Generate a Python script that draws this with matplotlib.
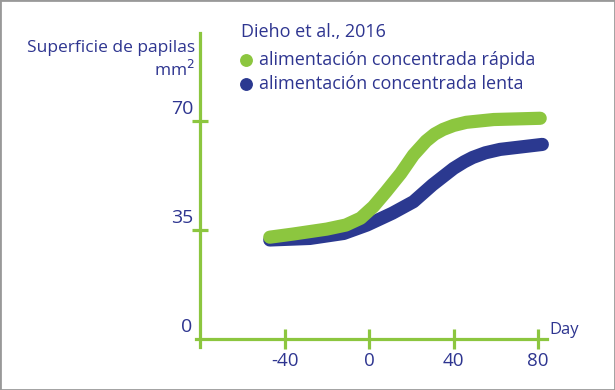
import matplotlib
matplotlib.use('Agg')
import matplotlib.pyplot as plt

# datos
dias_rapida = [-47, -36, -20, -11, -4, 2, 8, 15, 21, 27, 31, 35, 40, 46, 59, 81]
sup_rapida = [32.7, 33.7, 35.3, 36.6, 38.8, 42.5, 47.3, 53.2, 59.1, 63.6, 65.8, 67.3, 68.6, 69.6, 70.5, 70.9]
dias_lenta = [-47, -28, -12, -1, 11, 21, 30, 40, 45, 49, 55, 62, 82]
sup_lenta = [31.8, 32.3, 33.9, 36.6, 40.4, 44.1, 49.5, 54.8, 56.9, 58.3, 59.8, 60.9, 62.5]
x_ticks = [-40, 0, 40, 80]
y_ticks = [0, 35, 70]

verde = '#8cc63f'
azul = '#2b3990'
texto = '#2e3590'

plt.rcParams['font.family'] = ['Open Sans', 'DejaVu Sans']

fig = plt.figure(figsize=(6.15, 3.9), dpi=100)
ax = fig.add_axes([0, 0, 1, 1])
ax.set_xlim(-174.7, 116.4)
ax.set_ylim(-16.4, 108.9)

# ejes dibujados con spines
for s in ['top', 'right']:
    ax.spines[s].set_visible(False)
ax.spines['left'].set_position(('data', -80))
ax.spines['bottom'].set_position(('data', 0))
ax.spines['left'].set_bounds(-2.6, 98.3)
ax.spines['bottom'].set_bounds(-82, 84.3)
for s in ['left', 'bottom']:
    ax.spines[s].set_color(verde)
    ax.spines[s].set_linewidth(2.3)
ax.set_xticks(x_ticks)
ax.set_yticks(y_ticks[1:])
ax.tick_params(axis='both', direction='inout', color=verde, width=2.3, labelleft=False, labelbottom=False)
ax.tick_params(axis='y', length=11)
ax.tick_params(axis='x', length=14)
ax.patch.set_alpha(0)

# lineas
ax.plot(dias_lenta, sup_lenta, color=azul, lw=9.5, solid_capstyle='round', solid_joinstyle='round')
ax.plot(dias_rapida, sup_rapida, color=verde, lw=9.5, solid_capstyle='round', solid_joinstyle='round')

# etiquetas
for t in x_ticks:
    ax.text(t, -7.0, str(t), ha='center', va='center', fontsize=13.5, color=texto)
for v in y_ticks:
    xx = -86.5 if v == 0 else -88.5
    ax.text(xx, v + 4.0, str(v), ha='center', va='center', fontsize=14, color=texto)
ax.text(85.5, 3.0, 'Day', ha='left', va='center', fontsize=12, color=texto)

ax.text(-82.5, 93.6, 'Superficie de papilas', ha='right', va='center', fontsize=12.5, color=texto)
ax.text(-82.5, 86.4, 'mm$^2$', ha='right', va='center', fontsize=12.5, color=texto)
ax.text(-60.5, 98.6, 'Dieho et al., 2016', ha='left', va='center', fontsize=13, color=texto)
ax.scatter([-58.3], [89.6], s=68, color=verde, zorder=5)
ax.scatter([-58.3], [81.9], s=68, color=azul, zorder=5)
ax.text(-52.3, 89.6, 'alimentación concentrada rápida', ha='left', va='center', fontsize=13, color=texto)
ax.text(-52.3, 81.9, 'alimentación concentrada lenta', ha='left', va='center', fontsize=13, color=texto)

# marco gris
fig.patches.append(plt.Rectangle((0, 0), 1, 1, transform=fig.transFigure, fill=False,
                                 edgecolor='#999999', lw=2))

fig.savefig('out.png', dpi=100)
